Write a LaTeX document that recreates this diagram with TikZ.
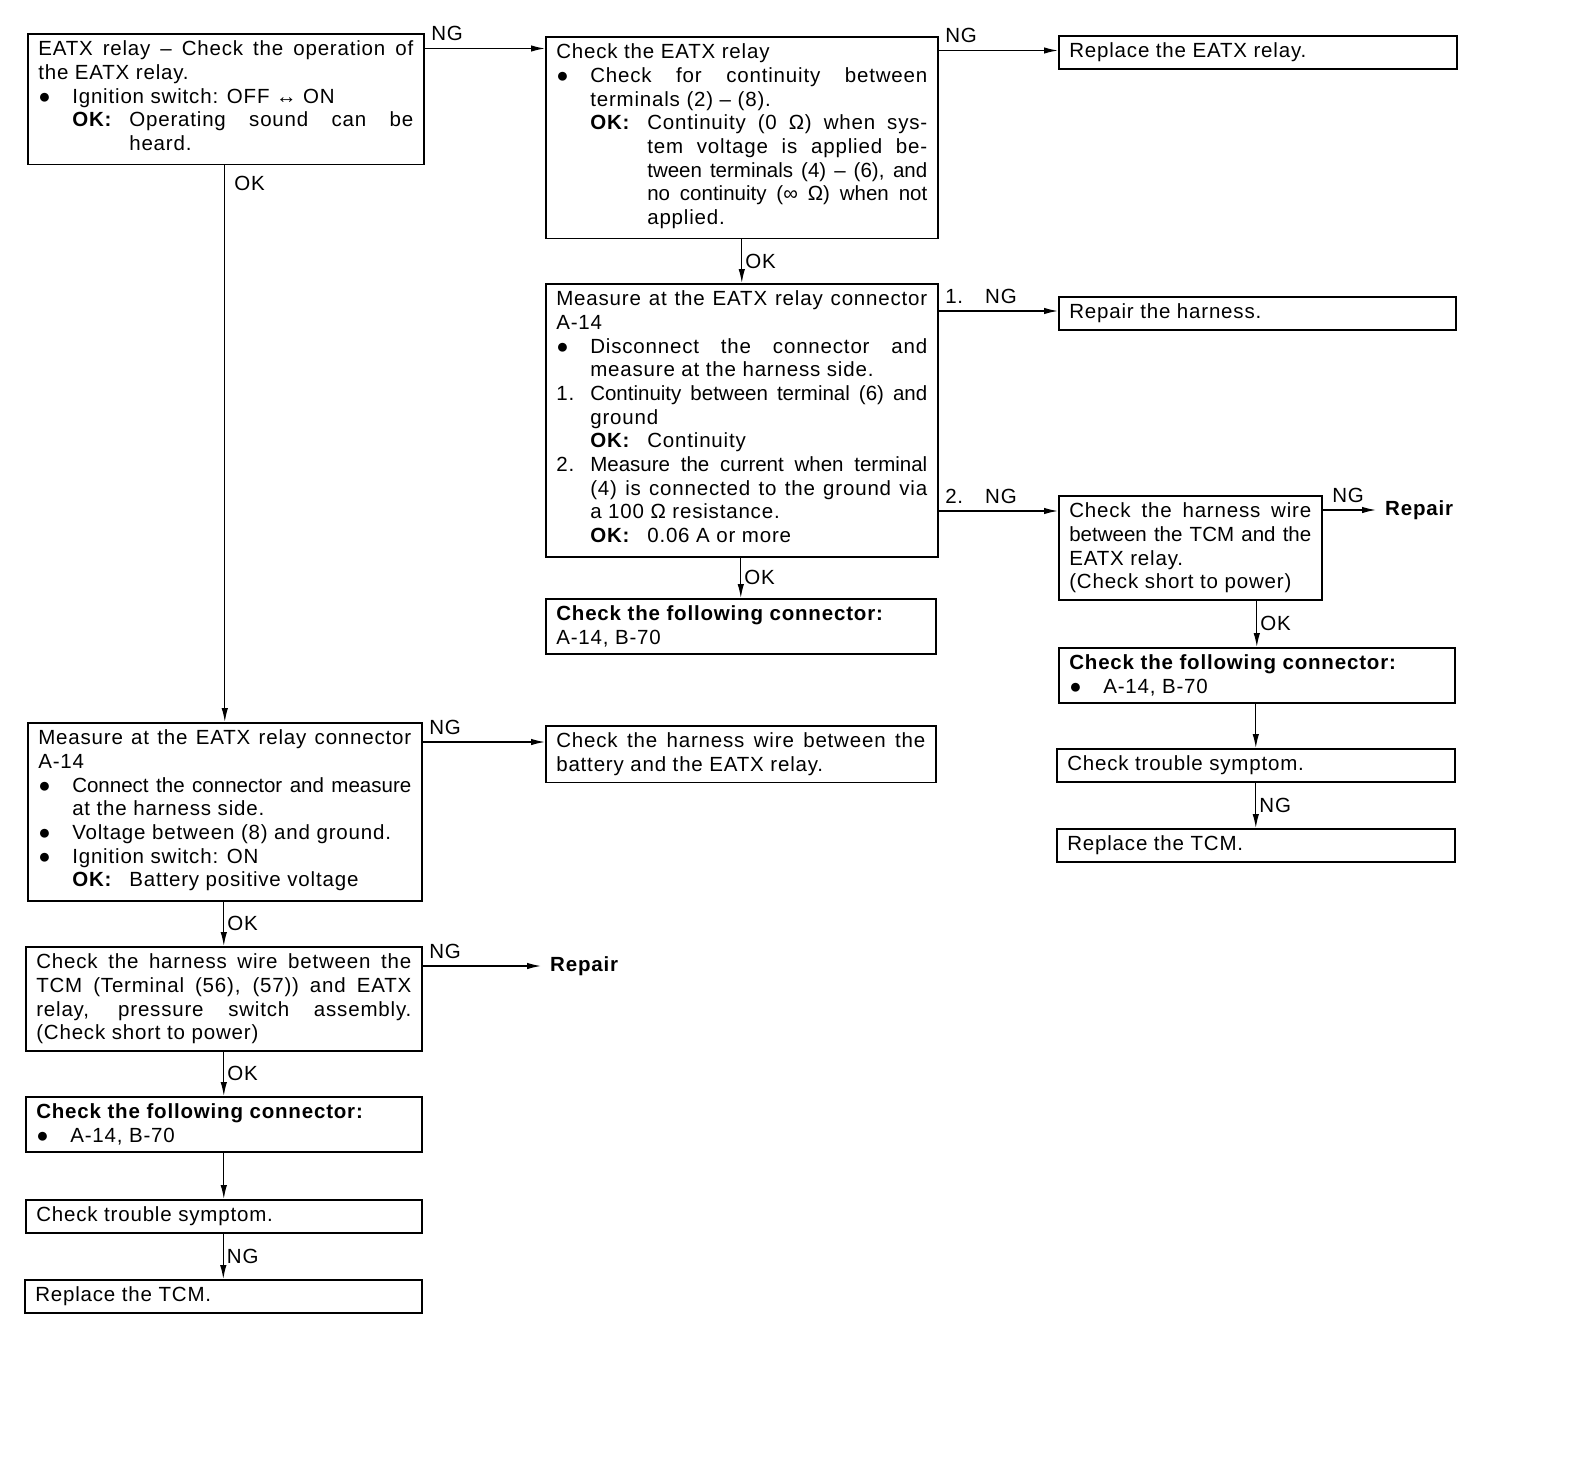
\documentclass[tikz,border=0pt]{standalone}
\usepackage{fontspec}
\setmainfont{Liberation Sans}[LetterSpace=4]
\usetikzlibrary{arrows.meta}

\newcommand{\boxfont}{\fontsize{20.5}{23.7}\selectfont}
\newlength{\itmind}\setlength{\itmind}{34pt}
\newlength{\okind}\setlength{\okind}{57pt}
\newcommand{\bul}{●}
\newcommand{\sq}[1]{{\addfontfeature{LetterSpace=0}#1}}
\newcommand{\itm}[2]{\par\leftskip=0pt\hangindent=\itmind\hangafter=1\noindent\makebox[\itmind][l]{#1}#2\par}
\newcommand{\okl}[1]{\par\leftskip=\itmind\hangindent=\okind\hangafter=1\noindent\makebox[\okind][l]{\textbf{OK:}}#1\strut\par}

\begin{document}
\begin{tikzpicture}[x=1pt,y=-1pt,
  box/.style={draw, line width=1.6pt, anchor=north west, inner xsep=10.5pt, inner ysep=7pt, text width=#1, align=justify, font=\boxfont},
  arr/.style={line width=1.3pt, -{Latex[length=14pt,width=6.5pt]}},
  lbl/.style={font=\boxfont, inner sep=3pt},
  goal/.style={font=\boxfont\bfseries, anchor=west, inner xsep=9pt}]

\useasboundingbox (0,0) rectangle (1584,1456);

% Relay check, right branch
\node[box=375pt] (relay) at (27,33) {EATX relay -- Check the operation of\linebreak the EATX relay.
  \itm{\bul}{Ignition switch: OFF ↔ ON}
  \okl{Operating sound can be\linebreak heard.}};
\node[box=371pt] (chkrelay) at (545,36) {Check the EATX relay
  \itm{\bul}{Check for continuity between\linebreak terminals (2) -- (8).}
  \okl{Continuity (0 Ω) when sys-\linebreak tem voltage is applied be-\linebreak \sq{tween terminals (4) -- (6), and}\linebreak \sq{no continuity (∞ Ω) when not}\linebreak applied.}};
\node[box=377pt] (replrelay) at (1058,35) {Replace the EATX relay.};
\node[box=371pt] (meas) at (545,283) {Measure at the EATX relay connector\linebreak A-14
  \itm{\bul}{Disconnect the connector and\linebreak measure at the harness side.}
  \itm{1.}{\sq{Continuity between terminal (6) and}\linebreak ground}
  \okl{Continuity}
  \itm{2.}{\sq{Measure the current when terminal}\linebreak (4) is connected to the ground via\linebreak a 100 Ω resistance.}
  \okl{0.06 A or more}};
\node[box=376pt] (harness) at (1058,296) {Repair the harness.};
\node[box=369pt] (conn) at (545,598) {\textbf{Check the following connector:}\newline A-14, B-70};

% Harness wire, far right
\node[box=242pt] (wire) at (1058,495) {Check the harness wire\linebreak \sq{between the TCM and the}\linebreak EATX relay.\par (Check short to power)};
\node[goal] (repairR) at (1376,510) {Repair};
\node[box=375pt] (conn2) at (1058,647) {\textbf{Check the following connector:}
  \itm{\bul}{A-14, B-70}};
\node[box=377pt] (sympt2) at (1056,748) {Check trouble symptom.};
\node[box=377pt] (tcm2) at (1056,828) {Replace the TCM.};

% Left column
\node[box=373pt] (measB) at (27,722) {Measure at the EATX relay connector\linebreak A-14
  \itm{\bul}{\sq{Connect the connector and measure}\linebreak at the harness side.}
  \itm{\bul}{Voltage between (8) and ground.}
  \itm{\bul}{Ignition switch: ON}
  \okl{Battery positive voltage}};
\node[box=369pt] (battery) at (545,725) {Check the harness wire between the\linebreak battery and the EATX relay.};
\node[box=375pt] (wireB) at (25,946) {Check the harness wire between the\linebreak TCM (Terminal (56), (57)) and EATX\linebreak relay, pressure switch assembly.\linebreak (Check short to power)};
\node[goal] (repairL) at (541,966) {Repair};
\node[box=375pt] (connB) at (25,1096) {\textbf{Check the following connector:}
  \itm{\bul}{A-14, B-70}};
\node[box=375pt] (symptB) at (25,1199) {Check trouble symptom.};
\node[box=376pt] (tcmB) at (24,1279) {Replace the TCM.};

% NG arrows
\draw[arr] ([yshift=-15.5pt]relay.north east) coordinate (a1) -- (a1 -| chkrelay.west)
  node[lbl, pos=0, anchor=south west, xshift=3pt, yshift=4pt] {NG};
\draw[arr] ([yshift=-14.5pt]chkrelay.north east) coordinate (a2) -- (a2 -| replrelay.west)
  node[lbl, pos=0, anchor=south west, xshift=3pt, yshift=4pt] {NG};
\draw[arr] ([yshift=-28pt]meas.north east) coordinate (a3) -- (a3 -| harness.west)
  node[lbl, pos=0, anchor=south west, xshift=3pt, yshift=4pt] {1.\hspace{22pt}NG};
\coordinate (a4) at ([yshift=-16pt]wire.north west);
\draw[arr] (a4 -| meas.east) -- (a4)
  node[lbl, pos=0, anchor=south west, xshift=3pt, yshift=4pt] {2.\hspace{22pt}NG};
\draw[arr] (repairR.west -| wire.east) -- (repairR.west)
  node[lbl, pos=0, anchor=south west, xshift=6pt, yshift=4pt] {NG};
\draw[arr] ([yshift=-20pt]measB.north east) coordinate (a5) -- (a5 -| battery.west)
  node[lbl, pos=0, anchor=south west, xshift=3pt, yshift=4pt] {NG};
\draw[arr] (repairL.west -| wireB.east) -- (repairL.west)
  node[lbl, pos=0, anchor=south west, xshift=3pt, yshift=4pt] {NG};

% OK arrows
\draw[arr] (measB.north |- relay.south) -- (measB.north) node[lbl, pos=0, anchor=north west, xshift=6pt, yshift=-7pt] {OK};
\draw[arr] (meas.north |- chkrelay.south) -- (meas.north) node[lbl, midway, right] {OK};
\draw[arr] (conn.north |- meas.south) -- (conn.north) node[lbl, midway, right] {OK};
\draw[arr] (conn2.north |- wire.south) -- (conn2.north) node[lbl, midway, right] {OK};
\draw[arr] (sympt2.north |- conn2.south) -- (sympt2.north);
\draw[arr] (tcm2.north |- sympt2.south) -- (tcm2.north) node[lbl, midway, right] {NG};
\draw[arr] (wireB.north |- measB.south) -- (wireB.north) node[lbl, midway, right] {OK};
\draw[arr] (connB.north |- wireB.south) -- (connB.north) node[lbl, midway, right] {OK};
\draw[arr] (symptB.north |- connB.south) -- (symptB.north);
\draw[arr] (tcmB.north |- symptB.south) -- (tcmB.north) node[lbl, midway, right] {NG};
\end{tikzpicture}
\end{document}
